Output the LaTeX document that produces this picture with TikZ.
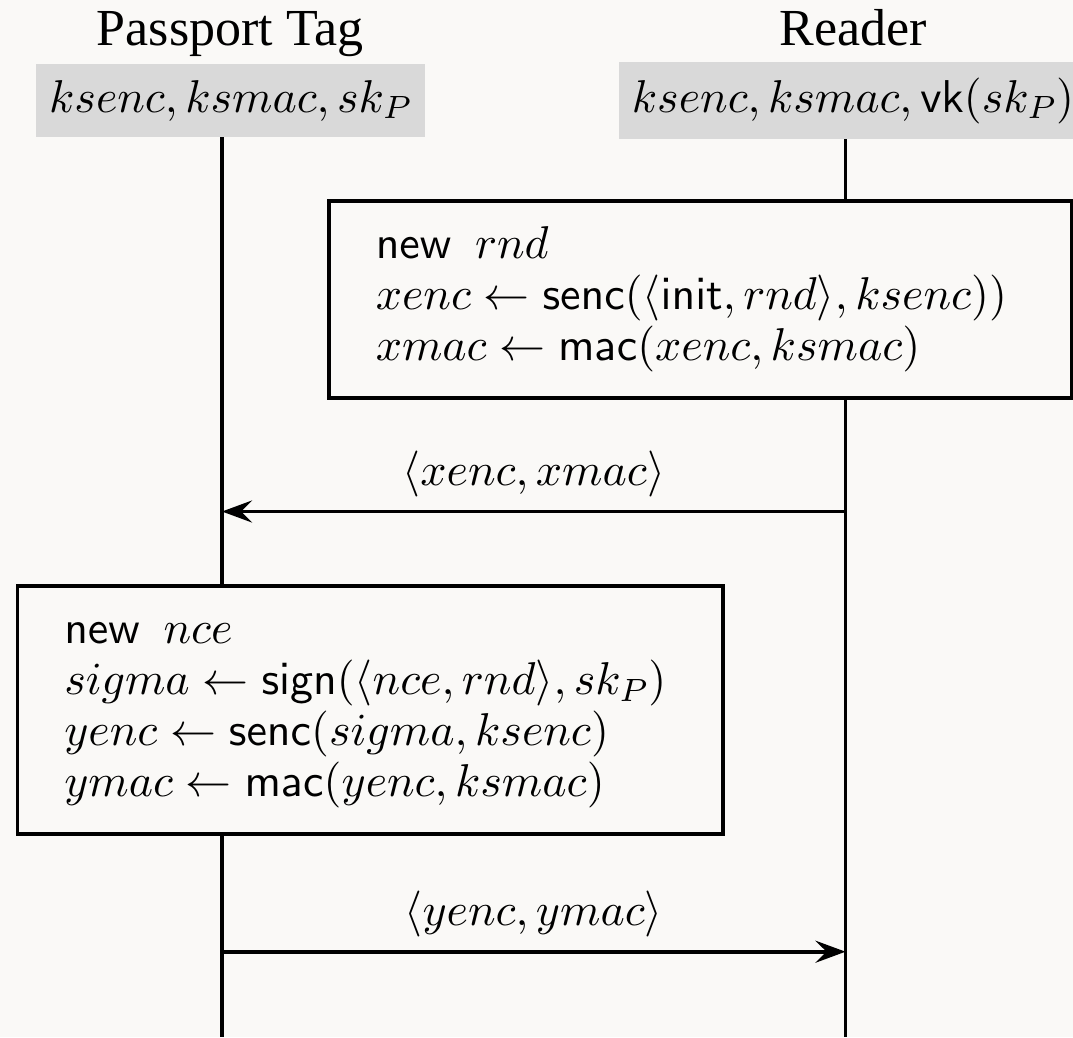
\RequirePackage{fix-cm}
\documentclass[tikz,border=0pt]{standalone}
\usepackage[no-math]{fontspec}
\newfontfamily\headfont{Liberation Serif}
\usetikzlibrary{arrows.meta}
\DeclareFontFamily{OT1}{cmss}{\hyphenchar\font45 }
\DeclareFontShape{OT1}{cmss}{m}{n}{<->cmss10}{}
\DeclareFontFamily{OML}{cmm}{\skewchar\font127 }
\DeclareFontShape{OML}{cmm}{m}{it}{<-35>cmmi7 <35->cmmi10}{}
\DeclareFontFamily{OMS}{cmsy}{\skewchar\font48 }
\DeclareFontShape{OMS}{cmsy}{m}{n}{<-35>cmsy7 <35->cmsy10}{}
\DeclareFontFamily{OT1}{cmr}{\hyphenchar\font45 }
\DeclareFontShape{OT1}{cmr}{m}{n}{<-35>cmr7 <35->cmr10}{}
\definecolor{bg}{RGB}{250,249,247}
\definecolor{keygrey}{RGB}{217,217,217}
\newcommand\mkline[1]{\strut$#1$}
\begin{document}
\begin{tikzpicture}[x=1pt,y=-1pt,
  mathfont/.style={font=\fontsize{46}{51}\selectfont},
  head/.style={font=\headfont\fontsize{52}{60}\selectfont, anchor=base, inner sep=0pt},
  keybox/.style={fill=keygrey, inner sep=0pt, mathfont},
  actbox/.style={draw, line width=3.5pt, fill=bg, align=left, inner xsep=47pt, inner ysep=22pt, anchor=north west, mathfont},
  life/.style={line width=3.3pt},
  lifeend/.style={line width=3.9pt},
  msg/.style={line width=3.6pt, -{Stealth[length=30pt,width=22pt,inset=11pt]}},
  msglabel/.style={above, inner sep=0pt, yshift=12.5pt, mathfont}]
\useasboundingbox (0,0) rectangle (1073,1037);
\fill[bg] (0,0) rectangle (1073,1037);
% headers
\node[head] (taghead) at (230,45.5) {Passport Tag};
\node[head] (rdhead) at (853,45.5) {Reader};
\node[keybox, minimum width=389pt, minimum height=73pt] (tagkeys) at (230.5,100.5) {$ksenc, ksmac, sk_P$};
\node[keybox, minimum width=468pt, minimum height=77pt] (rdkeys) at (853,100.5) {$ksenc, ksmac, \mathsf{vk}(sk_P)$};
% lifelines
\coordinate (tagbot) at (222,1037);
\coordinate (rdbot) at (845.5,1037);
\coordinate (tagstop) at (222,1011);
\coordinate (rdstop) at (845.5,1011);
\draw[life] (tagkeys.south -| tagbot) -- (tagbot);
\draw[life] (rdkeys.south -| rdbot) -- (rdbot);
\draw[lifeend] (tagstop) -- (tagbot);
\draw[lifeend] (rdstop) -- (rdbot);
% reader computation
\node[actbox, text width=649pt] (rdcomp) at (327,199) {%
  \mkline{\mathsf{new}\ \,rnd}\\
  \mkline{xenc \leftarrow \mathsf{senc}(\langle \mathsf{init}, rnd\rangle, ksenc))}\\
  \mkline{xmac \leftarrow \mathsf{mac}(xenc, ksmac)}};
% message 1
\coordinate (m1r) at (845.5,511.5);
\coordinate (m1t) at (222,511.5);
\draw[msg] (m1r) -- node[msglabel] (m1lab) {$\langle xenc, xmac\rangle$} (m1t);
% tag computation
\node[actbox, text width=611.5pt] (tagcomp) at (15.5,584) {%
  \mkline{\mathsf{new}\ \,nce}\\
  \mkline{sigma \leftarrow \mathsf{sign}(\langle nce, rnd\rangle, sk_P)}\\
  \mkline{yenc \leftarrow \mathsf{senc}(sigma, ksenc)}\\
  \mkline{ymac \leftarrow \mathsf{mac}(yenc, ksmac)}};
% message 2
\coordinate (m2t) at (222,951.7);
\coordinate (m2r) at (845.5,951.7);
\draw[msg] (m2t) -- node[msglabel] (m2lab) {$\langle yenc, ymac\rangle$} (m2r);
\end{tikzpicture}
\end{document}
